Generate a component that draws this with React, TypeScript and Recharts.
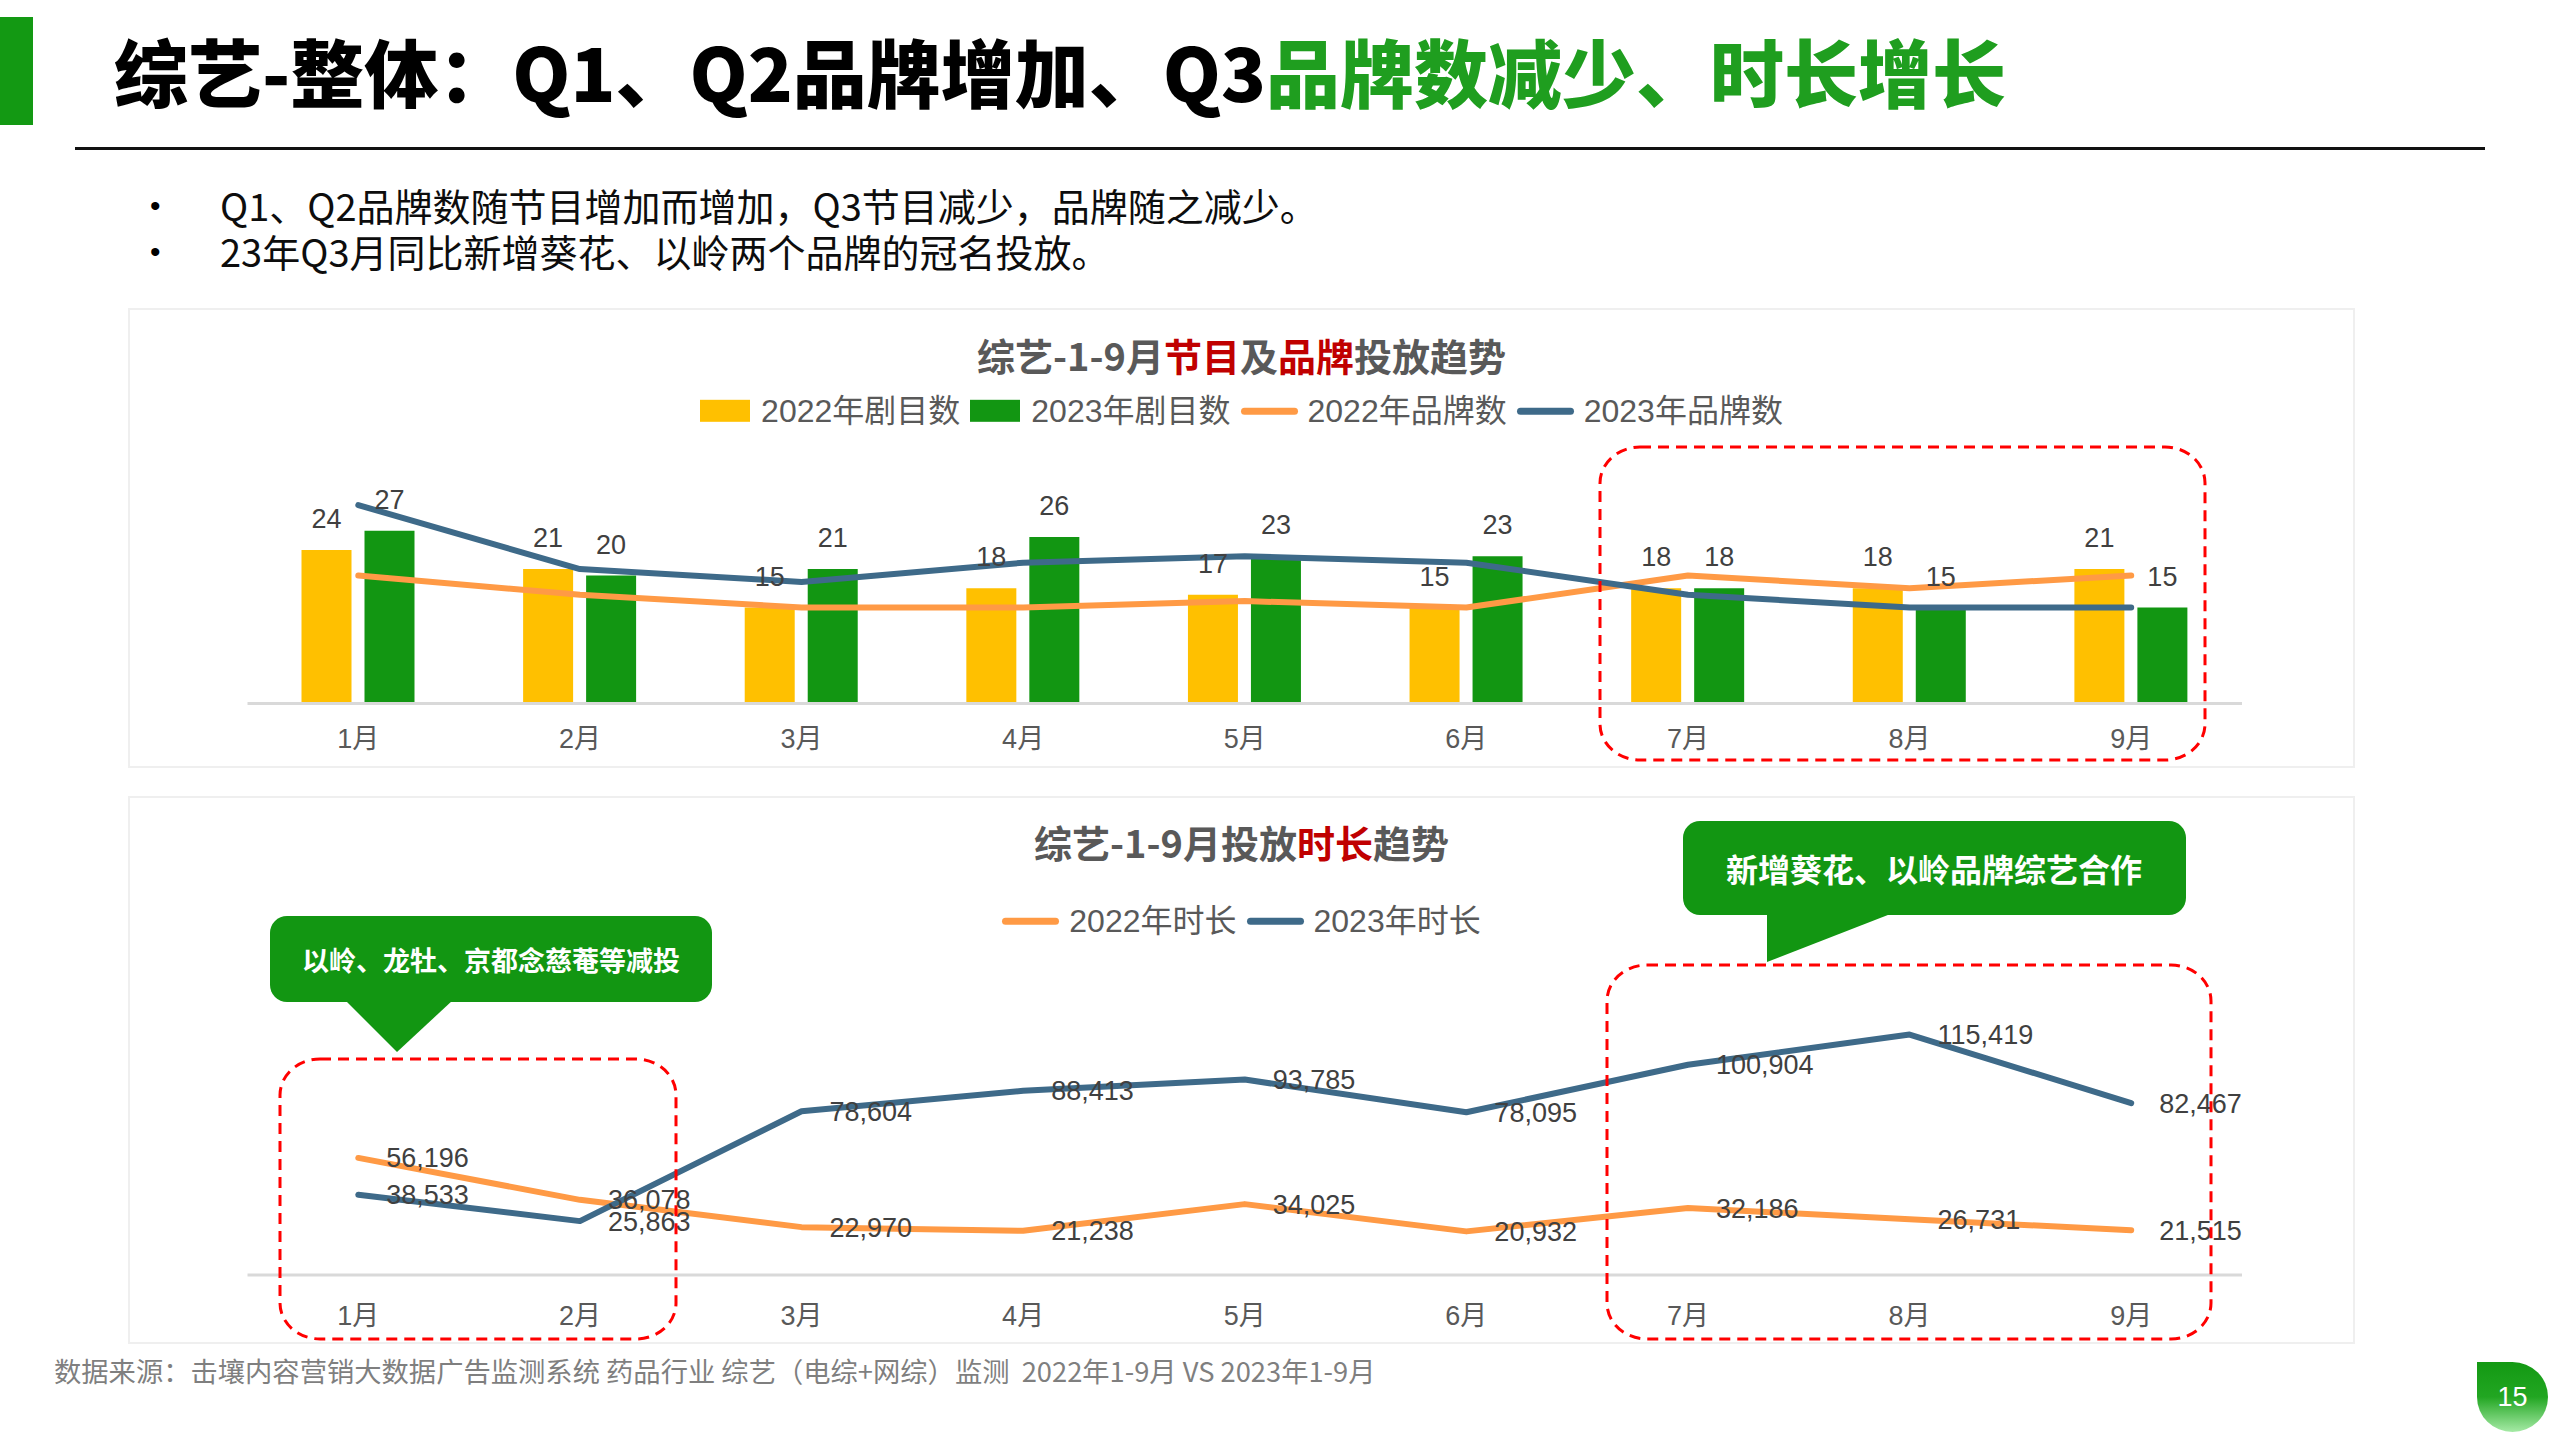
import React from 'react';
import { ComposedChart, LineChart, Bar, Line, XAxis, YAxis, LabelList } from 'recharts';

const months = ['1月', '2月', '3月', '4月', '5月', '6月', '7月', '8月', '9月'];
const shows2022 = [24, 21, 15, 18, 17, 15, 18, 18, 21];
const shows2023 = [27, 20, 21, 26, 23, 23, 18, 15, 15];
const brands2022 = [20, 17, 15, 15, 16, 15, 20, 18, 20];
const brands2023 = [31, 21, 19, 22, 23, 22, 17, 15, 15];
const duration2022 = [56196, 36078, 22970, 21238, 34025, 20932, 32186, 26731, 21515];
const duration2023 = [38533, 25863, 78604, 88413, 93785, 78095, 100904, 115419, 82467];

const topData = months.map((m, i) => ({
  month: m,
  s22: shows2022[i],
  s23: shows2023[i],
  b22: brands2022[i],
  b23: brands2023[i],
}));
const bottomData = months.map((m, i) => ({
  month: m,
  d22: duration2022[i],
  d23: duration2023[i],
}));

const YELLOW = '#FFC000';
const GREEN = '#129612';
const ORANGE = '#FF9A45';
const BLUE = '#3E6A89';
const TITLE_GRAY = '#595959';
const LABEL = '#404040';
const RED = '#C00000';
const NUMF = '"Liberation Sans", "Noto Sans CJK SC", sans-serif';
const CJKF = '"Noto Sans CJK SC", "Liberation Sans", sans-serif';

const fmt = (v: any) => Number(v).toLocaleString('en-US');

const LegendRect = ({ color, text }: { color: string; text: string }) => (
  <div style={{ display: 'flex', alignItems: 'center' }}>
    <div style={{ width: 50, height: 22, background: color, marginRight: 11 }} />
    <span>{text}</span>
  </div>
);
const LegendLine = ({ color, text }: { color: string; text: string }) => (
  <div style={{ display: 'flex', alignItems: 'center' }}>
    <div style={{ width: 57, height: 7, borderRadius: 4, background: color, marginRight: 10 }} />
    <span>{text}</span>
  </div>
);

const centerText = (cy: number): React.CSSProperties => ({
  position: 'absolute',
  left: 129,
  width: 2225,
  top: cy,
  transform: 'translateY(-50%)',
  display: 'flex',
  justifyContent: 'center',
  columnGap: 10,
  lineHeight: 1.2,
});

export default function App() {
  return (
    <div
      style={{
        position: 'absolute',
        left: 0,
        top: 0,
        width: 2560,
        height: 1440,
        background: '#FFFFFF',
        overflow: 'hidden',
        fontFamily: CJKF,
      }}
    >
      {/* header */}
      <div style={{ position: 'absolute', left: 0, top: 17, width: 33, height: 108, background: '#139913' }} />
      <div
        style={{
          position: 'absolute',
          left: 114,
          top: 70,
          transform: 'translateY(-50%)',
          fontSize: 74,
          fontWeight: 900,
          color: '#000',
          whiteSpace: 'nowrap',
          lineHeight: 1.1,
        }}
      >
        综艺-整体：Q1、Q2品牌增加、Q3<span style={{ color: '#1F9E1F' }}>品牌数减少、时长增长</span>
      </div>
      <div style={{ position: 'absolute', left: 75, top: 147, width: 2410, height: 3, background: '#111' }} />

      {/* bullets */}
      {[
        { y: 205, t: 'Q1、Q2品牌数随节目增加而增加，Q3节目减少，品牌随之减少。' },
        { y: 251, t: '23年Q3月同比新增葵花、以岭两个品牌的冠名投放。' },
      ].map((b, i) => (
        <React.Fragment key={i}>
          <div style={{ position: 'absolute', left: 150, top: b.y, transform: 'translateY(-50%)', fontSize: 30, color: '#000', lineHeight: 1.1, fontFamily: NUMF }}>•</div>
          <div style={{ position: 'absolute', left: 220, top: b.y, transform: 'translateY(-50%)', fontSize: 38, color: '#0D0D0D', whiteSpace: 'nowrap', lineHeight: 1.1 }}>
            {b.t}
          </div>
        </React.Fragment>
      ))}

      {/* panels */}
      <div style={{ position: 'absolute', left: 128, top: 308, width: 2223, height: 456, border: '2px solid #EFEFEF' }} />
      <div style={{ position: 'absolute', left: 128, top: 796, width: 2223, height: 544, border: '2px solid #EFEFEF' }} />

      {/* top chart title & legend */}
      <div style={{ ...centerText(355), fontSize: 38, fontWeight: 700, color: TITLE_GRAY }}>
        <span>
          综艺-1-9月<span style={{ color: RED }}>节目</span>及<span style={{ color: RED }}>品牌</span>投放趋势
        </span>
      </div>
      <div style={{ ...centerText(411), fontSize: 32, color: TITLE_GRAY, fontFamily: NUMF }}>
        <LegendRect color={YELLOW} text="2022年剧目数" />
        <LegendRect color={GREEN} text="2023年剧目数" />
        <LegendLine color={ORANGE} text="2022年品牌数" />
        <LegendLine color={BLUE} text="2023年品牌数" />
      </div>

      <div style={{ position: 'absolute', left: 129, top: 308 }}>
        <ComposedChart
          width={2225}
          height={460}
          data={topData}
          margin={{ top: 171.5, right: 112, bottom: 24.5, left: 118.5 }}
          barSize={50}
          barGap={13}
        >
          <XAxis
            dataKey="month"
            height={40}
            axisLine={{ stroke: '#D9D9D9', strokeWidth: 3 }}
            tickLine={false}
            tickSize={0}
            tickMargin={25}
            tick={{ fill: TITLE_GRAY, fontSize: 27, fontFamily: NUMF }}
            interval={0}
          />
          <YAxis hide domain={[0, 35]} />
          <Bar dataKey="s22" name="2022年剧目数" fill={YELLOW} isAnimationActive={false}>
            <LabelList dataKey="s22" position="top" offset={22} fill={LABEL} fontSize={27} fontFamily={NUMF} />
          </Bar>
          <Bar dataKey="s23" name="2023年剧目数" fill={GREEN} isAnimationActive={false}>
            <LabelList dataKey="s23" position="top" offset={22} fill={LABEL} fontSize={27} fontFamily={NUMF} />
          </Bar>
          <Line
            dataKey="b22"
            name="2022年品牌数"
            stroke={ORANGE}
            strokeWidth={6}
            strokeLinecap="round"
            strokeLinejoin="round"
            dot={false}
            activeDot={false}
            isAnimationActive={false}
          />
          <Line
            dataKey="b23"
            name="2023年品牌数"
            stroke={BLUE}
            strokeWidth={6}
            strokeLinecap="round"
            strokeLinejoin="round"
            dot={false}
            activeDot={false}
            isAnimationActive={false}
          />
        </ComposedChart>
      </div>

      {/* bottom chart title & legend */}
      <div style={{ ...centerText(842), fontSize: 38, fontWeight: 700, color: TITLE_GRAY }}>
        <span>
          综艺-1-9月投放<span style={{ color: RED }}>时长</span>趋势
        </span>
      </div>
      <div style={{ ...centerText(921), fontSize: 32, color: TITLE_GRAY, fontFamily: NUMF }}>
        <LegendLine color={ORANGE} text="2022年时长" />
        <LegendLine color={BLUE} text="2023年时长" />
      </div>

      <div style={{ position: 'absolute', left: 129, top: 796 }}>
        <LineChart
          width={2225}
          height={548}
          data={bottomData}
          margin={{ top: 187.3, right: 112, bottom: 29, left: 118.5 }}
        >
          <XAxis
            dataKey="month"
            height={40}
            axisLine={{ stroke: '#D9D9D9', strokeWidth: 3 }}
            tickLine={false}
            tickSize={0}
            tickMargin={31}
            tick={{ fill: TITLE_GRAY, fontSize: 27, fontFamily: NUMF }}
            interval={0}
            padding={{ left: 110.8, right: 110.8 }}
          />
          <YAxis hide domain={[0, 140000]} />
          <Line
            dataKey="d22"
            name="2022年时长"
            stroke={ORANGE}
            strokeWidth={6}
            strokeLinecap="round"
            strokeLinejoin="round"
            dot={false}
            activeDot={false}
            isAnimationActive={false}
          >
            <LabelList dataKey="d22" position="right" offset={28} fill={LABEL} fontSize={27} fontFamily={NUMF} formatter={fmt} />
          </Line>
          <Line
            dataKey="d23"
            name="2023年时长"
            stroke={BLUE}
            strokeWidth={6}
            strokeLinecap="round"
            strokeLinejoin="round"
            dot={false}
            activeDot={false}
            isAnimationActive={false}
          >
            <LabelList dataKey="d23" position="right" offset={28} fill={LABEL} fontSize={27} fontFamily={NUMF} formatter={fmt} />
          </Line>
        </LineChart>
      </div>

      {/* annotations */}
      <svg
        width={2560}
        height={1440}
        style={{ position: 'absolute', left: 0, top: 0, pointerEvents: 'none' }}
      >
        <rect x={1600} y={447} width={605} height={313} rx={40} ry={36} fill="none" stroke="#FF0000" strokeWidth={3} strokeDasharray="11 7" />
        <rect x={280} y={1059} width={396} height={280} rx={40} ry={36} fill="none" stroke="#FF0000" strokeWidth={3} strokeDasharray="11 7" />
        <rect x={1607} y={965} width={604} height={374} rx={40} ry={36} fill="none" stroke="#FF0000" strokeWidth={3} strokeDasharray="11 7" />

        <rect x={270} y={916} width={442} height={86} rx={17} fill={GREEN} />
        <polygon points="345,1000 453,1000 397,1052" fill={GREEN} />
        <text x={491} y={959} textAnchor="middle" dominantBaseline="central" fill="#FFFFFF" fontSize={27} fontWeight={700} fontFamily={CJKF}>
          以岭、龙牡、京都念慈菴等减投
        </text>

        <rect x={1683} y={821} width={503} height={94} rx={17} fill={GREEN} />
        <polygon points="1767,913 1893,913 1767,962" fill={GREEN} />
        <text x={1934} y={868} textAnchor="middle" dominantBaseline="central" fill="#FFFFFF" fontSize={32} fontWeight={700} fontFamily={CJKF}>
          新增葵花、以岭品牌综艺合作
        </text>
      </svg>

      {/* footer */}
      <div
        style={{
          position: 'absolute',
          left: 54,
          top: 1370,
          transform: 'translateY(-50%)',
          fontSize: 27.3,
          color: '#7F7F7F',
          whiteSpace: 'nowrap',
          lineHeight: 1.2,
        }}
      >
        数据来源：击壤内容营销大数据广告监测系统 药品行业 综艺（电综+网综）监测&nbsp;&nbsp;2022年1-9月 VS 2023年1-9月
      </div>
      <div
        style={{
          position: 'absolute',
          left: 2477,
          top: 1362,
          width: 71,
          height: 70,
          borderRadius: '0 50% 50% 50%',
          background: 'linear-gradient(180deg, #139913 0%, #22a622 50%, #a6eaa6 100%)',
          color: '#FFFFFF',
          fontFamily: NUMF,
          fontSize: 27,
          display: 'flex',
          alignItems: 'center',
          justifyContent: 'center',
        }}
      >
        15
      </div>
    </div>
  );
}
